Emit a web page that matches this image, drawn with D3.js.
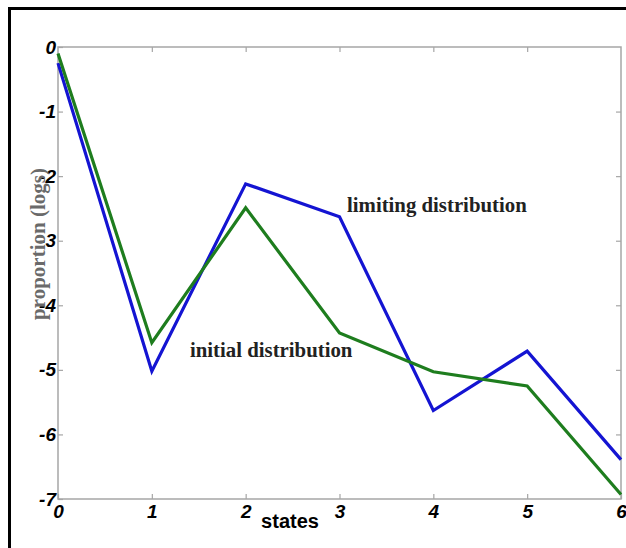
<!DOCTYPE html>
<html>
<head>
<meta charset="utf-8">
<script src="https://cdn.jsdelivr.net/npm/d3@7"></script>
<style>
  body { margin: 0; background: #fff; }
  svg { display: block; }
</style>
</head>
<body>
<div class="chart"></div>
<script>
const states = [0, 1, 2, 3, 4, 5, 6]
const limiting = [-0.25, -5.02, -2.12, -2.63, -5.63, -4.71, -6.39]
const initial = [-0.1, -4.58, -2.49, -4.43, -5.03, -5.25, -6.93]
const yTicks = [0, -1, -2, -3, -4, -5, -6, -7]

var width = 626,
    height = 548,
    margin = {top: 47, right: 5, bottom: 49, left: 58};

var svg = d3.select('.chart')
  .append('svg')
  .attr('width', width)
  .attr('height', height)

// black frame, left and top only
svg.append('path')
  .attr('d', 'M9.5,548V8.5H626')
  .attr('fill', 'none')
  .attr('stroke', '#000')
  .attr('stroke-width', 3)

const x = d3.scaleLinear()
  .domain([0, 6])
  .range([margin.left, width - margin.right])

const y = d3.scaleLinear()
  .domain([-7, 0])
  .range([height - margin.bottom, margin.top])

const grey = '#a6a6a6'

// axis box
svg.append('rect')
  .attr('x', x(0))
  .attr('y', y(0))
  .attr('width', x(6) - x(0))
  .attr('height', y(-7) - y(0))
  .attr('fill', 'none')
  .attr('stroke', grey)
  .attr('stroke-width', 1.5)

const styleAxis = g => {
  g.select('.domain').remove()
  g.selectAll('.tick line').attr('stroke', grey).attr('stroke-width', 1.2)
  g.selectAll('.tick text')
    .attr('fill', '#000')
    .style('font-family', 'Liberation Sans, Arial, sans-serif')
    .style('font-weight', 'bold')
    .style('font-style', 'italic')
    .style('font-size', '19px')
}

svg.append('g')
  .attr('transform', `translate(0,${y(-7)})`)
  .call(d3.axisBottom(x).tickValues(states).tickFormat(d3.format('d')).tickSize(-5).tickPadding(5))
  .call(styleAxis)
  .call(g => g.selectAll('.tick text').attr('dy', '0.75em'))

svg.append('g')
  .attr('transform', `translate(${x(0)},0)`)
  .call(d3.axisLeft(y).tickValues(yTicks).tickFormat(d => d === 0 ? '0' : '-' + Math.abs(d)).tickSize(-5).tickPadding(2))
  .call(styleAxis)

// mirrored ticks on top and right
svg.append('g')
  .attr('transform', `translate(0,${y(0)})`)
  .call(d3.axisTop(x).tickValues(states.slice(1, -1)).tickFormat('').tickSize(-5))
  .call(styleAxis)

svg.append('g')
  .attr('transform', `translate(${x(6)},0)`)
  .call(d3.axisRight(y).tickValues(yTicks.slice(1, -1)).tickFormat('').tickSize(-5))
  .call(styleAxis)

const line = d3.line()
  .x((d, i) => x(states[i]))
  .y(d => y(d))

svg.append('path')
  .datum(limiting)
  .attr('d', line)
  .attr('fill', 'none')
  .attr('stroke', '#1414d2')
  .attr('stroke-width', 3.2)
  .attr('stroke-linejoin', 'miter')

svg.append('path')
  .datum(initial)
  .attr('d', line)
  .attr('fill', 'none')
  .attr('stroke', '#1e7d1e')
  .attr('stroke-width', 3.2)
  .attr('stroke-linejoin', 'miter')

// labels
svg.append('text')
  .attr('x', 290)
  .attr('y', 528)
  .attr('text-anchor', 'middle')
  .style('font-family', 'Liberation Sans, Arial, sans-serif')
  .style('font-weight', 'bold')
  .style('font-size', '20px')
  .text('states')

svg.append('text')
  .attr('transform', 'translate(45,244) rotate(-90)')
  .attr('text-anchor', 'middle')
  .attr('fill', '#6a6a6a')
  .style('font-family', 'Liberation Serif, Times New Roman, serif')
  .style('font-weight', 'bold')
  .style('font-size', '21px')
  .text('proportion (logs)')

const annot = [
  {t: 'limiting distribution', x: 347, y: 212},
  {t: 'initial distribution', x: 190, y: 357}
]

svg.selectAll('.annot')
  .data(annot)
  .enter()
  .append('text')
  .attr('class', 'annot')
  .attr('x', d => d.x)
  .attr('y', d => d.y)
  .attr('fill', '#222')
  .style('font-family', 'Liberation Serif, Times New Roman, serif')
  .style('font-weight', 'bold')
  .style('font-size', '20.8px')
  .text(d => d.t)
</script>
</body>
</html>
